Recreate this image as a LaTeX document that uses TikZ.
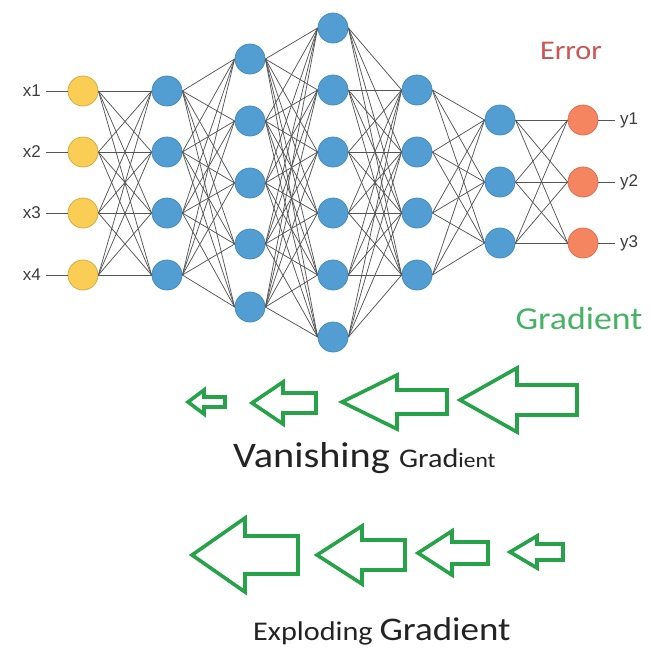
\documentclass[tikz,border=0pt]{standalone}
\usepackage{fontspec}
\newfontfamily\calib[FakeStretch=1.12]{Carlito}
\newfontfamily\arialish{Liberation Sans}

\definecolor{inyellow}{RGB}{250,205,85}
\definecolor{inyellowline}{RGB}{215,172,62}
\definecolor{hidblue}{RGB}{82,158,210}
\definecolor{hidblueline}{RGB}{70,140,190}
\definecolor{outorange}{RGB}{245,132,96}
\definecolor{outorangeline}{RGB}{222,112,80}
\definecolor{wiregray}{RGB}{85,85,85}
\definecolor{arrowgreen}{RGB}{38,162,72}
\definecolor{errred}{RGB}{205,84,84}
\definecolor{gradgreen}{RGB}{70,178,102}
\definecolor{labelgray}{RGB}{60,60,60}
\definecolor{textdark}{RGB}{35,35,35}

\tikzset{
  neuron/.style={circle, minimum size=30pt, inner sep=0pt, line width=0.8pt},
  inneuron/.style={neuron, fill=inyellow, draw=inyellowline},
  hidneuron/.style={neuron, fill=hidblue, draw=hidblueline},
  outneuron/.style={neuron, fill=outorange, draw=outorangeline},
  wire/.style={draw=wiregray, line width=0.75pt},
  iolabel/.style={font=\arialish\fontsize{17}{19}\selectfont, text=labelgray, inner sep=5pt},
  garrow/.style={draw=arrowgreen, line width=3.6pt, line join=miter, fill=white},
}

% left-pointing block arrow: tip x, neck x, tail x, centre y, head half-height, body half-height
\newcommand{\gradarrow}[6]{%
  \draw[garrow] (#1,#4) -- (#2,#4-#5) -- (#2,#4-#6) -- (#3,#4-#6)
    -- (#3,#4+#6) -- (#2,#4+#6) -- (#2,#4+#5) -- cycle;}

\begin{document}
\begin{tikzpicture}[x=1pt, y=-1pt]
\useasboundingbox (0,0) rectangle (650,651);

% input layer
\foreach \k/\yy in {1/91, 2/152, 3/213, 4/275}
  \node[inneuron] (i\k) at (83,\yy) {};
% hidden layers
\foreach \k/\yy in {1/91, 2/152, 3/213, 4/275}
  \node[hidneuron] (a\k) at (167,\yy) {};
\foreach \k/\yy in {1/59, 2/121, 3/183, 4/244, 5/307}
  \node[hidneuron] (b\k) at (250,\yy) {};
\foreach \k/\yy in {1/28, 2/90, 3/152, 4/213, 5/275, 6/337}
  \node[hidneuron] (c\k) at (333,\yy) {};
\foreach \k/\yy in {1/90, 2/152, 3/213, 4/275}
  \node[hidneuron] (d\k) at (417,\yy) {};
\foreach \k/\yy in {1/120, 2/182, 3/243}
  \node[hidneuron] (e\k) at (500,\yy) {};
% output layer
\foreach \k/\yy in {1/120, 2/182, 3/243}
  \node[outneuron] (o\k) at (583,\yy) {};

% full connections between neighbouring layers
\foreach \p in {1,...,4} \foreach \q in {1,...,4}
  \draw[wire] (i\p.east) -- (a\q.west);
\foreach \p in {1,...,4} \foreach \q in {1,...,5}
  \draw[wire] (a\p.east) -- (b\q.west);
\foreach \p in {1,...,5} \foreach \q in {1,...,6}
  \draw[wire] (b\p.east) -- (c\q.west);
\foreach \p in {1,...,6} \foreach \q in {1,...,4}
  \draw[wire] (c\p.east) -- (d\q.west);
\foreach \p in {1,...,4} \foreach \q in {1,...,3}
  \draw[wire] (d\p.east) -- (e\q.west);
\foreach \p in {1,...,3} \foreach \q in {1,...,3}
  \draw[wire] (e\p.east) -- (o\q.west);

% input and output labels
\foreach \k/\yy in {1/91, 2/152, 3/213, 4/275} {
  \node[iolabel, anchor=east] (lx\k) at (46,\yy) {x\k};
  \draw[wire] (lx\k.east) -- (i\k.west);
}
\foreach \k/\yy in {1/120, 2/182, 3/243} {
  \node[iolabel, anchor=west] (ly\k) at (615,\yy) {y\k};
  \draw[wire] (o\k.east) -- (ly\k.west);
}

% captions
\node[font=\calib\fontsize{27}{30}\selectfont, text=errred] (err) at (571,51) {Error};
\node[font=\calib\fontsize{32}{36}\selectfont, text=gradgreen] (grad) at (579,319) {Gradient};

% vanishing gradient: arrows shrink towards the input
\gradarrow{188}{204}{225}{402}{12}{5}
\gradarrow{252}{283}{316}{403}{21}{10}
\gradarrow{342}{397}{447}{402}{27}{12}
\gradarrow{460}{517}{577}{400}{32}{15}
\node[anchor=base west, inner sep=0pt, text=textdark] (van) at (233,467)
  {\calib\fontsize{36}{40}\selectfont Vanishing {\fontsize{27}{30}\selectfont Grad}{\fontsize{21}{24}\selectfont ient}};

% exploding gradient: arrows grow towards the input
\gradarrow{192}{245}{298}{555}{37}{19}
\gradarrow{317}{362}{405}{555}{29}{15}
\gradarrow{418}{452}{488}{553}{22}{11}
\gradarrow{510}{537}{563}{552}{16}{8}
\node[anchor=base west, inner sep=0pt, text=textdark] (exp) at (253,640)
  {\calib\fontsize{27}{30}\selectfont Exploding {\fontsize{33}{36}\selectfont Gradient}};
\end{tikzpicture}
\end{document}
